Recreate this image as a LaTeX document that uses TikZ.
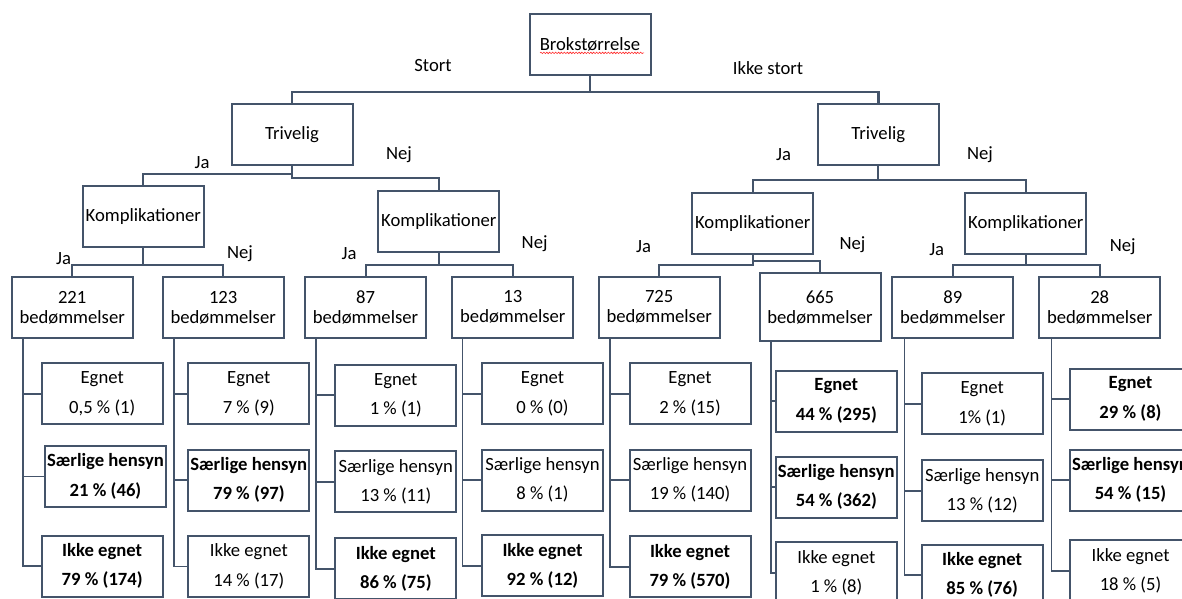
\documentclass[tikz,border=0pt]{standalone}
\usepackage{fontspec}
\setmainfont{Carlito}
\usetikzlibrary{calc,decorations.pathmorphing}

\definecolor{boxline}{HTML}{44546A}

\tikzset{
  box/.style={draw=boxline, line width=1.5pt, minimum width=90.75pt, minimum height=45.75pt,
    inner xsep=0pt, align=center, font=\fontsize{14}{15}\selectfont},
  result/.style={box, font=\fontsize{14}{22}\selectfont},
  strong/.style={box, font=\fontsize{14}{22}\selectfont\bfseries},
  lbl/.style={font=\fontsize{14}{15}\selectfont},
  link/.style={draw=boxline, line width=1.5pt},
  branch/.style={draw=boxline, line width=1.2pt},
  elbow/.style={to path={(\tikztostart) |- ($(\tikztostart)!#1!(\tikztotarget)$) -| (\tikztotarget)}},
  elbow/.default=0.5
}

\begin{document}
\begin{tikzpicture}[x=0.75pt, y=-0.75pt]
  \useasboundingbox (0,0) rectangle (1182,599);
  \clip (0,0) rectangle (1182,599);

  % Decision boxes
  \node[box] (root) at (590,44.3) {Brokstørrelse};
  \node[box] (trivL) at (292,135) {Trivelig};
  \node[box] (trivR) at (878.3,135) {Trivelig};
  \node[box] (kompLL) at (143.3,216.8) {Komplikationer};
  \node[box] (kompLR) at (438.8,221.3) {Komplikationer};
  \node[box] (kompRL) at (752.7,223.5) {Komplikationer};
  \node[box] (kompRR) at (1025.8,223.8) {Komplikationer};

  % spell-check squiggle under the root text
  \draw[red!85!white, line width=0.45pt, decorate, decoration={snake, amplitude=0.55pt, segment length=2.2pt}]
    ($(root.center)+(-50,8.6)$) -- ($(root.center)+(54,8.6)$);

  % Counts
  \node[box] (n221) at (72.2,307.5) {221\\bedømmelser};
  \node[box] (n123) at (223.2,307.5) {123\\bedømmelser};
  \node[box] (n87) at (365.5,307.2) {87\\bedømmelser};
  \node[box] (n13) at (512.8,307.2) {13\\bedømmelser};
  \node[box] (n725) at (659.2,307.2) {725\\bedømmelser};
  \node[box, minimum height=50.8pt] (n665) at (820,307.2) {665\\bedømmelser};
  \node[box] (n89) at (952.8,307.2) {89\\bedømmelser};
  \node[box] (n28) at (1099.7,307.2) {28\\bedømmelser};

  % Outcomes
  \node[result] (eg221) at (102.2,393.7) {Egnet\\0,5 \% (1)};
  \node[strong] (sh221) at (105.5,476.5) {Særlige hensyn\\21 \% (46)};
  \node[strong] (ie221) at (102.2,566) {Ikke egnet\\79 \% (174)};

  \node[result] (eg123) at (248.8,393.7) {Egnet\\7 \% (9)};
  \node[strong] (sh123) at (248.8,480) {Særlige hensyn\\79 \% (97)};
  \node[result] (ie123) at (248.8,566.3) {Ikke egnet\\14 \% (17)};

  \node[result] (eg87) at (395.8,395) {Egnet\\1 \% (1)};
  \node[result] (sh87) at (395.8,481.7) {Særlige hensyn\\13 \% (11)};
  \node[strong] (ie87) at (395.8,568.8) {Ikke egnet\\86 \% (75)};

  \node[result] (eg13) at (542.5,393.7) {Egnet\\0 \% (0)};
  \node[result] (sh13) at (542.5,480) {Særlige hensyn\\8 \% (1)};
  \node[strong] (ie13) at (542.5,565.8) {Ikke egnet\\92 \% (12)};

  \node[result] (eg725) at (690,393.7) {Egnet\\2 \% (15)};
  \node[result] (sh725) at (690,480) {Særlige hensyn\\19 \% (140)};
  \node[strong] (ie725) at (690,566.7) {Ikke egnet\\79 \% (570)};

  \node[strong] (eg665) at (836.3,401) {Egnet\\44 \% (295)};
  \node[strong] (sh665) at (836.3,487) {Særlige hensyn\\54 \% (362)};
  \node[result] (ie665) at (836.3,572.8) {Ikke egnet\\1 \% (8)};

  \node[result] (eg89) at (982.2,403.8) {Egnet\\1\% (1)};
  \node[result] (sh89) at (982.2,490.7) {Særlige hensyn\\13 \% (12)};
  \node[strong] (ie89) at (982.2,575) {Ikke egnet\\85 \% (76)};

  \node[strong] (eg28) at (1130.5,399) {Egnet\\29 \% (8)};
  \node[strong] (sh28) at (1130.5,480) {Særlige hensyn\\54 \% (15)};
  \node[result] (ie28) at (1130.5,570.7) {Ikke egnet\\18 \% (5)};

  % Tree connectors
  \draw[link, line width=2pt] (root.south) to[elbow=0.58] (trivL.north);
  \draw[link, line width=2pt] (root.south) to[elbow=0.58] (trivR.north);
  \draw[link] (trivL.south) to[elbow=0.39] (kompLL.north);
  \draw[link] (trivL.south) to[elbow=0.51] (kompLR.north);
  \draw[link] (trivR.south) to[elbow=0.53] (kompRL.north);
  \draw[link] (trivR.south) to[elbow=0.53] (kompRR.north);
  \draw[link] (kompLL.south) to[elbow=0.6] (n221.north);
  \draw[link] (kompLL.south) to[elbow=0.6] (n123.north);
  \draw[link] (kompLR.south) to[elbow=0.55] (n87.north);
  \draw[link] (kompLR.south) to[elbow=0.55] (n13.north);
  \draw[link] (kompRL.south) to[elbow=0.47] (n725.north);
  \draw[link] (kompRL.south) to[elbow=0.35] (n665.north);
  \draw[link] (kompRR.south) to[elbow=0.47] (n89.north);
  \draw[link] (kompRR.south) to[elbow=0.47] (n28.north);

  % Count -> outcome connectors
  \draw[branch] ([xshift=9pt]n221.south west) |- (eg221.west);
  \draw[branch] ([xshift=9pt]n221.south west) |- (sh221.west);
  \draw[branch] ([xshift=9pt]n221.south west) |- (ie221.west);
  \draw[branch] ([xshift=9pt]n123.south west) |- (eg123.west);
  \draw[branch] ([xshift=9pt]n123.south west) |- (sh123.west);
  \draw[branch] ([xshift=9pt]n123.south west) |- (ie123.west);
  \draw[branch] ([xshift=9pt]n87.south west) |- (eg87.west);
  \draw[branch] ([xshift=9pt]n87.south west) |- (sh87.west);
  \draw[branch] ([xshift=9pt]n87.south west) |- (ie87.west);
  \draw[branch] ([xshift=8.5pt]n13.south west) |- (eg13.west);
  \draw[branch] ([xshift=8.5pt]n13.south west) |- (sh13.west);
  \draw[branch] ([xshift=8.5pt]n13.south west) |- (ie13.west);
  \draw[branch] ([xshift=9.3pt]n725.south west) |- (eg725.west);
  \draw[branch] ([xshift=9.3pt]n725.south west) |- (sh725.west);
  \draw[branch] ([xshift=9.3pt]n725.south west) |- (ie725.west);
  \draw[branch, line width=1.6pt] ([xshift=9.3pt]n665.south west) |- (eg665.west);
  \draw[branch, line width=1.6pt] ([xshift=9.3pt]n665.south west) |- (sh665.west);
  \draw[branch, line width=1.6pt] ([xshift=9.3pt]n665.south west) |- (ie665.west);
  \draw[branch] ([xshift=10pt]n89.south west) |- (eg89.west);
  \draw[branch] ([xshift=10pt]n89.south west) |- (sh89.west);
  \draw[branch] ([xshift=10pt]n89.south west) |- (ie89.west);
  \draw[branch] ([xshift=10pt]n28.south west) |- (eg28.west);
  \draw[branch] ([xshift=10pt]n28.south west) |- (sh28.west);
  \draw[branch] ([xshift=10pt]n28.south west) |- (ie28.west);

  % Branch labels
  \node[lbl] (stort) at (433,66) {Stort};
  \node[lbl] (ikkestort) at (768,68) {Ikke stort};
  \node[lbl] (jaTL) at (202,163) {Ja};
  \node[lbl] (nejTL) at (399,155) {Nej};
  \node[lbl] (jaTR) at (783.6,154.7) {Ja};
  \node[lbl] (nejTR) at (980,154.7) {Nej};
  \node[lbl] (jaLL) at (63.5,259) {Ja};
  \node[lbl] (nejLL) at (240,254) {Nej};
  \node[lbl] (jaLR) at (349,254) {Ja};
  \node[lbl] (nejLR) at (534.6,244) {Nej};
  \node[lbl] (jaRL) at (643.5,246.7) {Ja};
  \node[lbl] (nejRL) at (852.5,244.3) {Nej};
  \node[lbl] (jaRR) at (936.7,249.3) {Ja};
  \node[lbl] (nejRR) at (1122.7,246.7) {Nej};
\end{tikzpicture}
\end{document}
